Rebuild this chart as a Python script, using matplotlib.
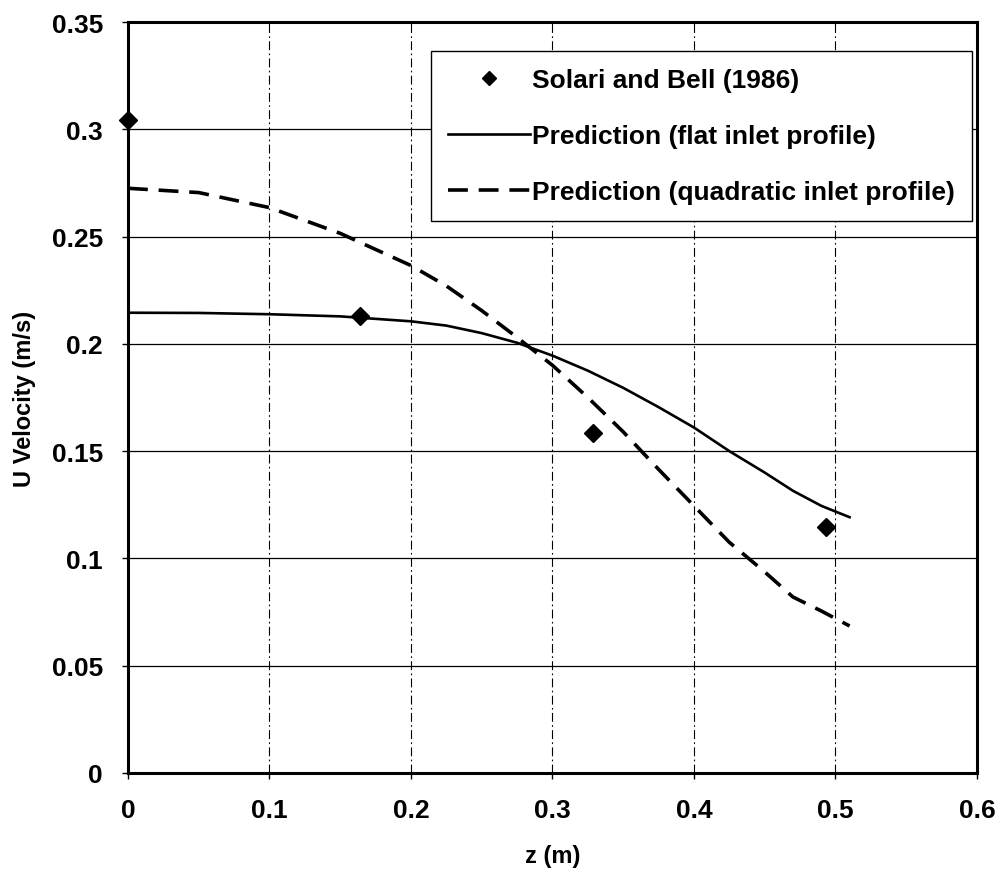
import numpy as np
import matplotlib
matplotlib.use("Agg")
from matplotlib import pyplot as plt

plt.rcParams['font.family'] = ['Liberation Sans', 'DejaVu Sans']

# measured points
z_meas = [0.0, 0.164, 0.329, 0.493]
u_meas = [0.3045, 0.2128, 0.1585, 0.1145]

# flat inlet profile prediction
z_flat = [0.0, 0.05, 0.1, 0.15, 0.2, 0.225, 0.25, 0.275, 0.3, 0.325, 0.35, 0.375, 0.4, 0.425, 0.45, 0.47, 0.49, 0.51]
u_flat = [0.2145, 0.2144, 0.2138, 0.2128, 0.2105, 0.2085, 0.2050, 0.2005, 0.1945, 0.1875, 0.1795, 0.1705, 0.1610, 0.1500, 0.1400, 0.1315, 0.1245, 0.1192]

# quadratic inlet profile prediction
z_quad = [0.0, 0.05, 0.1, 0.15, 0.2, 0.225, 0.25, 0.275, 0.3, 0.325, 0.35, 0.375, 0.4, 0.425, 0.45, 0.47, 0.49, 0.51]
u_quad = [0.2725, 0.2705, 0.2635, 0.2515, 0.2365, 0.2270, 0.2155, 0.2030, 0.1900, 0.1750, 0.1590, 0.1415, 0.1245, 0.1075, 0.0937, 0.0820, 0.0755, 0.0685]

xticks = [0, 0.1, 0.2, 0.3, 0.4, 0.5, 0.6]
xlabels = ['0', '0.1', '0.2', '0.3', '0.4', '0.5', '0.6']
yticks = [0, 0.05, 0.1, 0.15, 0.2, 0.25, 0.3, 0.35]
ylabels = ['0', '0.05', '0.1', '0.15', '0.2', '0.25', '0.3', '0.35']

fig = plt.figure(figsize=(10.02, 8.78), dpi=100)
ax = fig.add_axes([0.1277, 0.1185, 0.8473, 0.8553])

ax.plot(z_meas, u_meas, 'D', color='black', markersize=9, linestyle='none',
        label='Solari and Bell (1986)', zorder=5, clip_on=False)
ax.plot(z_flat, u_flat, '-', color='black', linewidth=1.9,
        label='Prediction (flat inlet profile)', zorder=4)
ax.plot(z_quad, u_quad, color='black', linewidth=2.6, dashes=(5.5, 3.0),
        label='Prediction (quadratic inlet profile)', zorder=4)

ax.set_xlim(0, 0.6)
ax.set_ylim(0, 0.35)
ax.set_xticks(xticks)
ax.set_xticklabels(xlabels, fontsize=19, fontweight='bold')
ax.set_yticks(yticks)
ax.set_yticklabels(ylabels, fontsize=19, fontweight='bold')
ax.tick_params(direction='out', length=4, width=1, pad=14, colors='black')

for y in yticks[1:-1]:
    ax.axhline(y, color='black', linewidth=0.9, zorder=1)
for x in xticks[1:-1]:
    ax.axvline(x, color='black', linewidth=0.8, linestyle=(0, (8, 3, 1.5, 3)), zorder=1)

for s in ax.spines.values():
    s.set_linewidth(2.2)
    s.set_color('black')

ax.set_xlabel('z (m)', fontsize=17, fontweight='bold', labelpad=16)
ax.set_ylabel('U Velocity (m/s)', fontsize=17, fontweight='bold', labelpad=11)

leg = ax.legend(loc='upper right', bbox_to_anchor=(0.994, 0.9614), borderaxespad=0,
                prop={'size': 19, 'weight': 'bold'},
                handlelength=3.1, handletextpad=0.05, labelspacing=1.2,
                borderpad=0.66, fancybox=False, framealpha=1, edgecolor='black',
                markerscale=0.8)
leg.get_frame().set_linewidth(1.0)

plt.savefig('out.png', dpi=100)
